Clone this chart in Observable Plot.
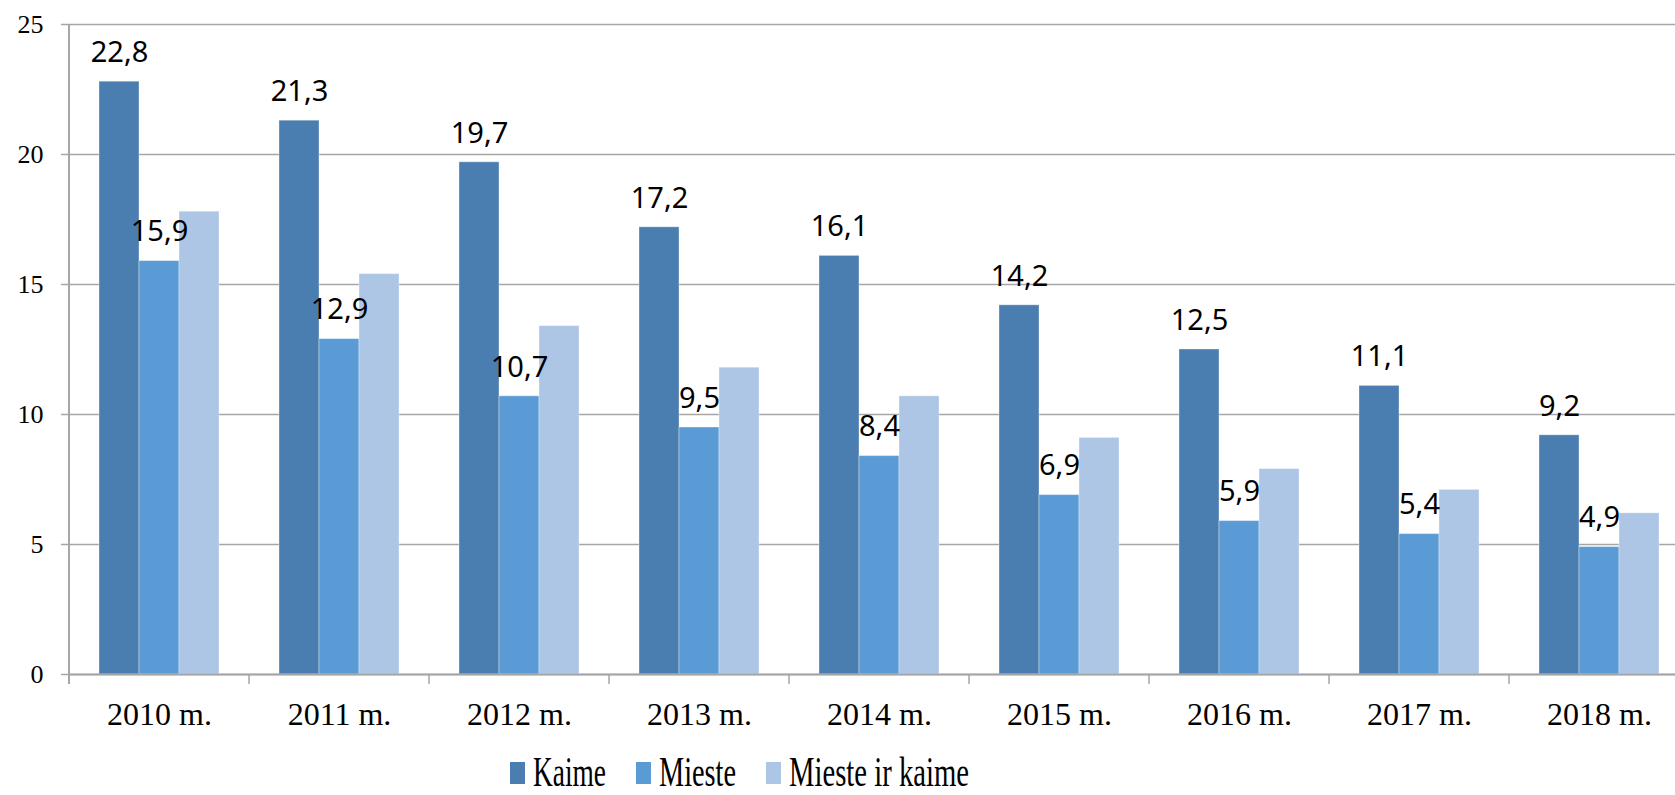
<!DOCTYPE html>
<html>
<head>
<meta charset="utf-8">
<script src="https://cdn.jsdelivr.net/npm/d3@7"></script>
<script src="https://cdn.jsdelivr.net/npm/@observablehq/plot@0.6"></script>
<style>
  html, body { margin: 0; padding: 0; background: white; overflow: hidden; }
  #chart svg { display: block; }
</style>
</head>
<body>
<div id="chart"></div>
<div id="legend"></div>
<script>
const years = ["2010 m.", "2011 m.", "2012 m.", "2013 m.", "2014 m.", "2015 m.", "2016 m.", "2017 m.", "2018 m."];
const series = ["Kaime", "Mieste", "Mieste ir kaime"];
const kaime = [22.8, 21.3, 19.7, 17.2, 16.1, 14.2, 12.5, 11.1, 9.2];
const mieste = [15.9, 12.9, 10.7, 9.5, 8.4, 6.9, 5.9, 5.4, 4.9];
const miesteIrKaime = [17.8, 15.4, 13.4, 11.8, 10.7, 9.1, 7.9, 7.1, 6.2];
const colors = ["#4a7eb0", "#5b9bd5", "#adc6e6"];
const yTicks = [0, 5, 10, 15, 20, 25];
const labelledSeries = ["Kaime", "Mieste"];

const seriesValues = [kaime, mieste, miesteIrKaime];
const data = years.flatMap((year, i) =>
  series.map((s, j) => ({year, series: s, value: seriesValues[j][i]}))
);
const fmt = v => v.toFixed(1).replace(".", ",");
const gray = "#a6a6a6";

const chart = Plot.plot({
  width: 1675,
  height: 740,
  marginTop: 24,
  marginBottom: 66,
  marginLeft: 69,
  marginRight: -14,
  style: {fontFamily: "Liberation Serif", background: "white", color: "black"},
  fx: {domain: years, padding: 0, label: null},
  x: {domain: series, paddingInner: 0, paddingOuter: 0.75, axis: null},
  y: {domain: [0, 25], label: null},
  color: {domain: series, range: colors},
  marks: [
    Plot.gridY(yTicks, {stroke: gray, strokeOpacity: 1, strokeWidth: 1.5}),
    Plot.axisY(yTicks, {tickSize: 8, tickPadding: 18, fontSize: 26, stroke: gray, strokeWidth: 1.5, fill: "black", label: null}),
    Plot.barY(data, {fx: "year", x: "series", y: "value", fill: "series", stroke: "white", strokeOpacity: 0.35, strokeWidth: 1}),
    Plot.ruleY([0], {stroke: gray, strokeWidth: 2}),
    Plot.axisFx({anchor: "bottom", tickSize: 0, tickPadding: 28, fontSize: 32, fill: "black", label: null}),
    Plot.text(data.filter(d => labelledSeries.includes(d.series)), {
      fx: "year", x: "series", y: "value", text: d => fmt(d.value),
      dy: -29, fontSize: 29, fontFamily: "Noto Sans", fill: "black"
    })
  ]
});

document.getElementById("chart").appendChild(chart);

// Category boundary ticks and vertical axis line, positioned with the plot's own scales
const fxScale = chart.scale("fx");
const yScale = chart.scale("y");
const svg = d3.select(chart);
const y0 = yScale.apply(0);
const yTop = yScale.apply(25);
const boundaries = years.map(y => fxScale.apply(y));
svg.append("g")
  .selectAll("line")
  .data(boundaries.slice(1))
  .join("line")
  .attr("x1", d => d).attr("x2", d => d)
  .attr("y1", y0).attr("y2", y0 + 10)
  .attr("stroke", gray).attr("stroke-width", 1.5);
svg.append("line")
  .attr("x1", boundaries[0]).attr("x2", boundaries[0])
  .attr("y1", yTop).attr("y2", y0 + 10)
  .attr("stroke", gray).attr("stroke-width", 2);

// Legend below the plot
const legend = d3.select("#legend").append("svg")
  .attr("width", 1675).attr("height", 55)
  .style("display", "block");
const legendX = [510, 636, 766];
const textWidths = [73, 77, 180];
series.forEach((s, i) => {
  legend.append("rect")
    .attr("x", legendX[i]).attr("y", 22)
    .attr("width", 15).attr("height", 22)
    .attr("fill", colors[i]);
  legend.append("text")
    .attr("x", legendX[i] + 23).attr("y", 46)
    .attr("font-family", "Liberation Serif")
    .attr("font-size", 42)
    .attr("textLength", textWidths[i])
    .attr("lengthAdjust", "spacingAndGlyphs")
    .attr("fill", "black")
    .text(s);
});
</script>
</body>
</html>
